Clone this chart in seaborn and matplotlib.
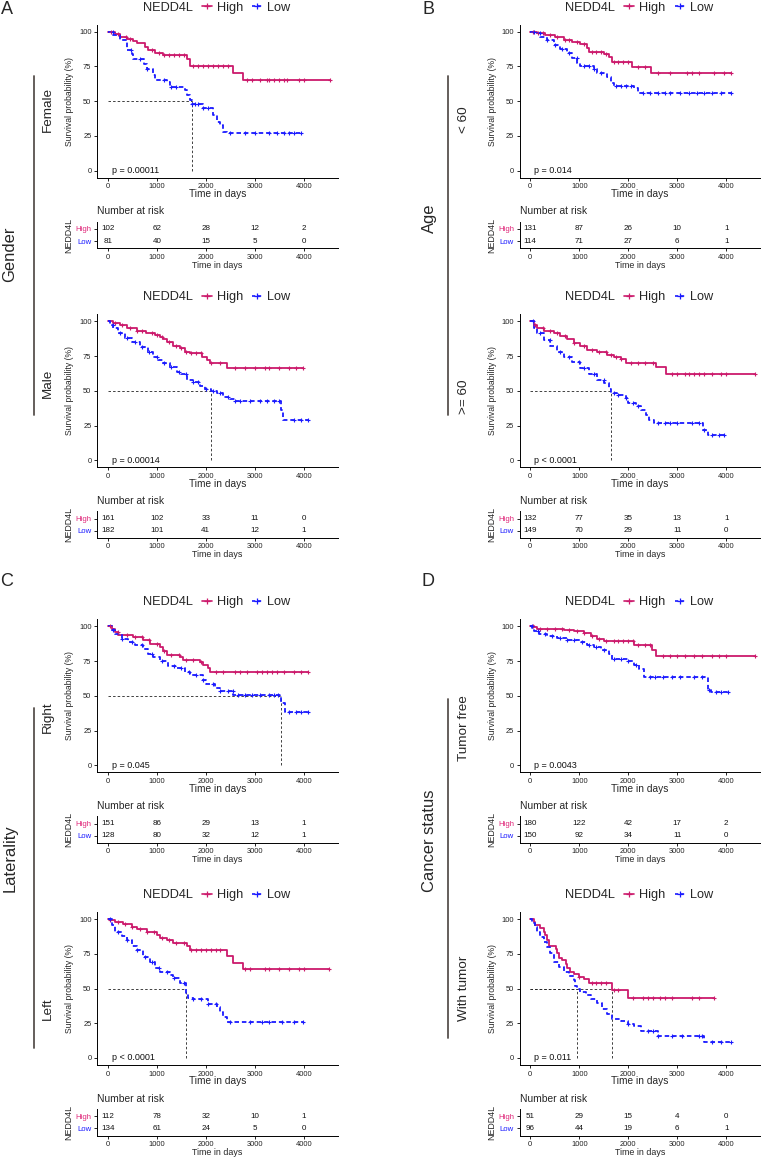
import matplotlib
matplotlib.use("Agg")

import matplotlib.pyplot as plt
from matplotlib.lines import Line2D
import seaborn as sns
import numpy as np

W, H = 761, 1157
HIGH_COLOR = "#CC1A6C"
LOW_COLOR = "#1A1AFF"
HIGH_LABEL_COLOR = "#E0287A"
RISK_TIMES = [0, 1000, 2000, 3000, 4000]

# ---------------- data ----------------
# Gender: Female
female_high_t = [0, 150, 250, 400, 520, 600, 760, 830, 960, 1130, 1610, 1680, 2560, 2760]
female_high_s = [100, 98, 96.5, 95, 93.5, 92, 89, 87, 85, 83, 80, 75, 70, 65]
female_high_cens = [60, 200, 370, 450, 900, 1050, 1150, 1250, 1350, 1450, 1550, 1750, 1850, 1950,
                    2050, 2150, 2250, 2350, 2450, 2850, 2950, 3100, 3250, 3300, 3400, 3500, 3600,
                    3650, 3900, 4000, 4540]
female_low_t = [0, 115, 250, 390, 490, 525, 730, 795, 930, 965, 1200, 1270, 1575, 1610, 1680, 1711,
                1950, 2150, 2220, 2290, 2360, 2425]
female_low_s = [100, 97.5, 94, 87, 84, 80, 77, 73.5, 69, 65, 64, 60.5, 58, 54.5, 51, 48,
                45, 40, 35, 33, 28, 27]
female_low_cens = [100, 480, 650, 800, 1150, 1300, 1400, 1720, 1780, 1850, 1950, 2050, 2500, 2800,
                   3000, 3300, 3450, 3600, 3700, 3800, 3950]
female_risk_high = [102, 62, 28, 12, 2]
female_risk_low = [81, 40, 15, 5, 0]

# Gender: Male
male_high_t = [0, 115, 250, 390, 590, 790, 960, 1070, 1130, 1200, 1340, 1470, 1575, 1680, 1915,
               2020, 2085, 2425]
male_high_s = [100, 99, 97.4, 95, 93.3, 91.4, 90, 88.5, 87, 85.4, 82.3, 80.6, 78, 77, 74.6,
               72.2, 70.3, 66.7]
male_high_cens = [150, 300, 450, 600, 700, 900, 1000, 1100, 1250, 1400, 1500, 1600, 1700, 1800,
                  1900, 2100, 2300, 2600, 2800, 3000, 3200, 3300, 3500, 3700, 3850, 3990]
male_low_t = [0, 50, 115, 215, 355, 490, 660, 830, 930, 1030, 1135, 1270, 1405, 1505, 1610, 1745,
              1880, 1985, 2098, 2220, 2355, 2490, 2595, 3545, 3580]
male_low_s = [100, 97.4, 95, 91.4, 87.8, 85.4, 81.8, 78.2, 74.6, 72.2, 69.8, 67.4, 63.8, 62.1,
              57.8, 56.6, 53.5, 51, 49.5, 48.2, 45.8, 44.1, 42.9, 36, 29]
male_low_cens = [100, 250, 400, 550, 700, 850, 1000, 1150, 1300, 1450, 1600, 1750, 1850, 2000,
                 2150, 2300, 2450, 2600, 2700, 2900, 3100, 3250, 3400, 3500, 3800, 3950, 4090]
male_risk_high = [161, 102, 33, 11, 0]
male_risk_low = [182, 101, 41, 12, 1]

# Age: < 60
young_high_t = [0, 140, 310, 510, 685, 855, 1025, 1160, 1200, 1505, 1605, 1675, 2085, 2460]
young_high_s = [100, 98.8, 97.6, 95.9, 94, 92.3, 90.9, 88.5, 85.1, 83.7, 81.5, 77.9, 74.3, 70]
young_high_cens = [50, 150, 250, 400, 550, 700, 800, 950, 1100, 1250, 1350, 1450, 1550, 1700,
                   1800, 1900, 2000, 2200, 2350, 2600, 2850, 3200, 3300, 3450, 3750, 3950, 4100]
young_low_t = [0, 100, 205, 340, 480, 615, 750, 855, 955, 1025, 1300, 1370, 1575, 1640, 1710,
               2120, 2190]
young_low_s = [100, 98.8, 96.4, 94, 90.4, 87.3, 84.4, 80.8, 77.2, 75.5, 73.1, 70.5, 67.6, 63.3,
               60.9, 59.2, 56.1]
young_low_cens = [80, 200, 350, 500, 650, 800, 950, 1100, 1200, 1300, 1450, 1750, 1850, 1950,
                  2050, 2300, 2450, 2600, 2750, 2850, 3050, 3250, 3400, 3550, 3700, 3900, 4100]
young_risk_high = [131, 87, 26, 10, 1]
young_risk_low = [114, 71, 27, 6, 1]

# Age: >= 60
old_high_t = [0, 70, 135, 275, 480, 615, 750, 890, 1025, 1160, 1370, 1575, 1710, 1845, 1950,
              2565, 2770]
old_high_s = [100, 97.4, 95, 93.3, 91.8, 89.4, 87, 84.2, 82.3, 79.4, 77.7, 75.8, 74.1, 72.7, 70.3,
              67.4, 62.1]
old_high_cens = [100, 250, 400, 550, 700, 900, 1100, 1250, 1400, 1550, 1650, 1750, 1850, 2050,
                 2200, 2350, 2500, 2900, 3000, 3150, 3250, 3350, 3450, 3550, 3700, 3900, 4000, 4580]
old_low_t = [0, 70, 135, 275, 410, 545, 685, 855, 1025, 1195, 1370, 1505, 1605, 1641, 1780, 1950,
             1985, 2155, 2255, 2360, 2430, 2530, 3520, 3625]
old_low_s = [100, 95, 91.4, 86.6, 82.3, 78.2, 74.6, 71, 66.2, 62.1, 57.8, 55.9, 51, 48.7, 47,
             44.6, 41, 39.1, 36.2, 32.6, 29, 27.1, 22, 18.2]
old_low_cens = [50, 200, 400, 600, 800, 1000, 1100, 1300, 1500, 1700, 1800, 1950, 2100, 2200,
                2600, 2750, 2850, 3000, 3300, 3450, 3550, 3700, 3850, 3960]
old_risk_high = [132, 77, 35, 13, 1]
old_risk_low = [149, 70, 29, 11, 0]

# Laterality: Right
right_high_t = [0, 80, 150, 215, 525, 725, 860, 1065, 1135, 1200, 1475, 1540, 1880, 1950, 2050, 2085]
right_high_s = [100, 98.3, 95.9, 94, 92.4, 90, 87.6, 85.2, 82.3, 79.2, 77.6, 75.7, 74.5, 72.1,
                69.7, 67.3]
right_high_cens = [50, 200, 400, 550, 700, 850, 1000, 1150, 1300, 1450, 1600, 1750, 1900, 2200,
                   2350, 2600, 2700, 2850, 3050, 3150, 3250, 3350, 3450, 3600, 3800, 3950, 4080]
right_low_t = [0, 80, 150, 285, 420, 555, 725, 830, 930, 1065, 1235, 1405, 1575, 1675, 1950, 2015,
               2185, 2290, 2560, 3545, 3615]
right_low_s = [100, 97.6, 94.7, 91.2, 88.8, 86.4, 84, 80.4, 77.6, 74.9, 71.4, 69.7, 67.3, 64.9,
               61.3, 58.5, 55.4, 53.7, 50.8, 44.6, 38.2]
right_low_cens = [100, 300, 500, 700, 900, 1100, 1350, 1500, 1650, 1800, 1950, 2150, 2300, 2450,
                  2550, 2650, 2800, 2950, 3100, 3300, 3400, 3480, 3700, 3850, 3950, 4080]
right_risk_high = [151, 86, 29, 13, 1]
right_risk_low = [128, 80, 32, 12, 1]

# Laterality: Left
left_high_t = [0, 50, 150, 320, 490, 590, 795, 1000, 1065, 1200, 1340, 1610, 1675, 2425, 2560, 2765]
left_high_s = [100, 99.3, 97.6, 96.2, 94.5, 92.5, 90.9, 88.5, 86.1, 84.9, 82.5, 80.5, 77.6, 73.5,
               68, 63.9]
left_high_cens = [50, 200, 350, 500, 650, 800, 950, 1100, 1250, 1400, 1550, 1700, 1800, 1900, 2000,
                  2100, 2200, 2300, 2800, 2900, 3200, 3300, 3500, 3700, 3900, 4000, 4520]
left_low_t = [0, 80, 150, 285, 385, 490, 590, 725, 860, 965, 1065, 1270, 1340, 1475, 1589, 1645,
              1745, 2050, 2220, 2290, 2355, 2425]
left_low_s = [100, 95.7, 90.9, 87.7, 84.9, 80.5, 77.6, 72.8, 69.2, 64.4, 62, 59.6, 57.2, 53.6,
              46.4, 43.5, 42.1, 39.2, 36.8, 33.2, 29.6, 26]
left_low_cens = [50, 200, 400, 600, 750, 900, 1050, 1200, 1350, 1550, 1750, 1900, 2050, 2200,
                 2500, 2900, 3150, 3300, 3550, 3800, 3980]
left_risk_high = [112, 78, 32, 10, 1]
left_risk_low = [134, 61, 24, 5, 0]

# Cancer status: Tumor free
free_high_t = [0, 70, 135, 685, 890, 1095, 1230, 1370, 1505, 2120, 2495, 2565]
free_high_s = [100, 99.3, 98.3, 97.6, 96.4, 95.2, 93.3, 90.9, 89.2, 86.8, 83.2, 78.9]
free_high_cens = [50, 200, 350, 500, 650, 800, 950, 1100, 1250, 1400, 1550, 1700, 1800, 1900, 2000,
                  2100, 2200, 2350, 2450, 2700, 2850, 3000, 3150, 3350, 3500, 3700, 3850, 4000, 4580]
free_low_t = [0, 35, 70, 170, 340, 545, 750, 1025, 1160, 1300, 1435, 1605, 1675, 1985, 2120, 2225,
              2325, 3625, 3695]
free_low_s = [100, 98.1, 96.4, 94.7, 93.3, 91.6, 89.9, 88.5, 86.8, 84.9, 83.2, 80.3, 76.5, 74.8,
              72.4, 69.3, 63.5, 54.4, 52.5]
free_low_cens = [30, 150, 300, 450, 600, 750, 900, 1050, 1200, 1350, 1500, 1700, 1850, 2000, 2150,
                 2450, 2550, 2700, 2900, 3050, 3350, 3500, 3650, 3800, 3900, 4030]
free_risk_high = [180, 122, 42, 17, 2]
free_risk_low = [150, 92, 34, 11, 0]

# Cancer status: With tumor
tumor_high_t = [0, 70, 105, 205, 275, 310, 340, 375, 515, 545, 580, 650, 720, 750, 820, 890, 990,
                1095, 1195, 1662, 1985]
tumor_high_s = [100, 98, 95.7, 93.3, 90.9, 88.5, 84.9, 80.5, 78.1, 75.2, 72.1, 70.4, 67.5, 64.4,
                62, 60.1, 58.4, 56.5, 54.1, 49, 43.5]
tumor_high_cens = [1000, 1250, 1350, 1450, 1550, 1700, 1800, 2100, 2300, 2400, 2500, 2650, 2750,
                   2900, 3300, 3450, 3750]
tumor_low_t = [0, 35, 105, 135, 205, 275, 340, 410, 480, 580, 685, 785, 890, 923, 957, 1025, 1130,
               1230, 1370, 1470, 1575, 1675, 1845, 1985, 2120, 2255, 2600, 3555]
tumor_low_s = [100, 96.9, 94.5, 90.9, 87.3, 83.7, 80, 75.2, 69.2, 65.6, 62, 58.9, 56, 51.7, 49.5,
               47.6, 45.2, 42.8, 39.7, 35.6, 32, 28.4, 26.7, 24.8, 22.8, 19.5, 15.6, 11.5]
tumor_low_cens = [2000, 2400, 2500, 2600, 2900, 3100, 3450, 3500, 3700, 3900, 4100]
tumor_risk_high = [51, 29, 15, 4, 0]
tumor_risk_low = [96, 44, 19, 6, 1]

PVALUES = ["p = 0.00011", "p = 0.00014", "p = 0.014", "p < 0.0001",
           "p = 0.045", "p < 0.0001", "p = 0.0043", "p = 0.011"]

PANELS = [
    (0, 0, (female_high_t, female_high_s, female_high_cens), (female_low_t, female_low_s, female_low_cens), female_risk_high, female_risk_low, PVALUES[0]),
    (0, 1, (male_high_t, male_high_s, male_high_cens), (male_low_t, male_low_s, male_low_cens), male_risk_high, male_risk_low, PVALUES[1]),
    (1, 0, (young_high_t, young_high_s, young_high_cens), (young_low_t, young_low_s, young_low_cens), young_risk_high, young_risk_low, PVALUES[2]),
    (1, 1, (old_high_t, old_high_s, old_high_cens), (old_low_t, old_low_s, old_low_cens), old_risk_high, old_risk_low, PVALUES[3]),
    (0, 2, (right_high_t, right_high_s, right_high_cens), (right_low_t, right_low_s, right_low_cens), right_risk_high, right_risk_low, PVALUES[4]),
    (0, 3, (left_high_t, left_high_s, left_high_cens), (left_low_t, left_low_s, left_low_cens), left_risk_high, left_risk_low, PVALUES[5]),
    (1, 2, (free_high_t, free_high_s, free_high_cens), (free_low_t, free_low_s, free_low_cens), free_risk_high, free_risk_low, PVALUES[6]),
    (1, 3, (tumor_high_t, tumor_high_s, tumor_high_cens), (tumor_low_t, tumor_low_s, tumor_low_cens), tumor_risk_high, tumor_risk_low, PVALUES[7]),
]

# ---------------- layout (pixels) ----------------
COL_X0 = [97.0, 519.5]                 # left edge of plotting area
ROW_Y100 = [31.7, 321.3, 626.3, 919.0]  # pixel row of the 100 % tick
AX_W = 241.0
AX_H = 152.9
XLIM = (-220, 4700)

sns.set_theme(style="ticks")
plt.rcParams["font.family"] = ["Liberation Sans", "DejaVu Sans"]
plt.rcParams["axes.linewidth"] = 0.7


def px_axes(fig, left, top, width, height):
    return fig.add_axes([left / W, 1 - (top + height) / H, width / W, height / H])


def surv_at(t, s, x):
    idx = np.searchsorted(np.asarray(t), np.asarray(x), side="right") - 1
    return np.asarray(s)[idx]


def style_axes(ax):
    sns.despine(ax=ax)
    for sp in ("left", "bottom"):
        ax.spines[sp].set_color("black")
        ax.spines[sp].set_linewidth(0.7)
    ax.tick_params(length=2.5, width=0.6, pad=1.5, colors="black", labelcolor="#222222")


def draw_panel(fig, col, row, high, low, risk_high, risk_low, pval):
    x0 = COL_X0[col]
    y100 = ROW_Y100[row]

    ax = px_axes(fig, x0, y100 - 6.95, AX_W, AX_H)
    medians = []
    for (t, s, cens), color, ls in ((high, HIGH_COLOR, "-"), (low, LOW_COLOR, (0, (2.5, 1.6)))):
        t_line = list(t) + [max(cens)]
        s_line = list(s) + [s[-1]]
        sns.lineplot(x=t_line, y=s_line, drawstyle="steps-post", color=color,
                     linestyle=ls, linewidth=1.3, estimator=None, ax=ax)
        sns.scatterplot(x=cens, y=surv_at(t, s, cens), marker="+", color=color,
                        s=7, linewidth=0.8, legend=False, ax=ax, zorder=3)
        below = [ti for ti, si in zip(t, s) if si <= 50]
        if below:
            medians.append(below[0])
    for m in medians:
        ax.plot([0, m], [50, 50], color="#222222", lw=0.6, ls=(0, (3, 2.5)), zorder=1)
        ax.plot([m, m], [0, 50], color="#222222", lw=0.6, ls=(0, (3, 2.5)), zorder=1)

    ax.set_xlim(*XLIM)
    ax.set_ylim(-5, 105)
    ax.set_xticks(RISK_TIMES)
    ax.set_yticks([0, 25, 50, 75, 100])
    style_axes(ax)
    ax.tick_params(labelsize=5.4)
    ax.set_xlabel("Time in days", fontsize=7.3, va="center")
    ax.xaxis.set_label_coords(0.5, -16.4 / AX_H)
    ax.set_ylabel("Survival probability (%)", fontsize=6.2, va="center")
    ax.yaxis.set_label_coords(-27 / AX_W, 0.5)
    ax.text(85, 0, pval, fontsize=6.5, ha="left", va="center", color="#111111")

    # legend above the curves
    handles = [
        Line2D([], [], ls="none"),
        Line2D([], [], color=HIGH_COLOR, lw=1.2, marker="+", markersize=4, markeredgewidth=0.9),
        Line2D([], [], color=LOW_COLOR, lw=1.2, ls=(0, (2, 1.5)), marker="+", markersize=4,
               markeredgewidth=0.9),
    ]
    fig.legend(handles=handles, labels=["NEDD4L", "High", "Low"], ncol=3, loc="center",
               bbox_to_anchor=((x0 + 112) / W, 1 - (y100 - 24) / H), frameon=False,
               fontsize=9.2, handlelength=0.8, handletextpad=0.4, columnspacing=0.7,
               borderpad=0, borderaxespad=0)

    # number-at-risk table
    rh = 26.6
    axr = px_axes(fig, x0, y100 + 190, AX_W, rh)
    axr.set_xlim(*XLIM)
    axr.set_ylim(0.4, 2.6)
    axr.set_xticks(RISK_TIMES)
    axr.set_yticks([2, 1])
    axr.set_yticklabels(["High", "Low"])
    style_axes(axr)
    axr.tick_params(labelsize=5.4)
    axr.tick_params(axis="y", labelsize=5.6)
    axr.get_yticklabels()[0].set_color(HIGH_LABEL_COLOR)
    axr.get_yticklabels()[1].set_color(LOW_COLOR)
    for tm, nh, nl in zip(RISK_TIMES, risk_high, risk_low):
        axr.text(tm, 2, str(nh), ha="center", va="center", fontsize=5.8, color="#111111")
        axr.text(tm, 1, str(nl), ha="center", va="center", fontsize=5.8, color="#111111")
    axr.text(0, 1 + 10.4 / rh, "Number at risk", transform=axr.transAxes, ha="left",
             va="center", fontsize=7.4)
    axr.set_xlabel("Time in days", fontsize=6.4, va="center")
    axr.xaxis.set_label_coords(0.5, -16.7 / rh)
    axr.set_ylabel("NEDD4L", fontsize=6.4, va="center")
    axr.yaxis.set_label_coords(-28 / AX_W, 0.5)


fig = plt.figure(figsize=(W / 100, H / 100), dpi=100)

for col, row, high, low, rhigh, rlow, pval in PANELS:
    draw_panel(fig, col, row, high, low, rhigh, rlow, pval)

# panel letters
for letter, x, y in (("A", 7, 9), ("B", 428, 9), ("C", 7, 582), ("D", 428, 582)):
    fig.text(x / W, 1 - y / H, letter, fontsize=13, ha="center", va="center")

# grouping labels and brackets
GROUPS = [
    ("Gender", 10, 254, 34, 76, 415),
    ("Age", 429, 218, 448, 76, 415),
    ("Laterality", 10, 858, 34, 708, 1048),
    ("Cancer status", 429, 841, 448, 699, 1038),
]
for label, lx, ly, bx, y_top, y_bot in GROUPS:
    fig.text(lx / W, 1 - ly / H, label, fontsize=11.9, rotation=90, ha="center", va="center")
    fig.add_artist(Line2D([bx / W, bx / W], [1 - y_top / H, 1 - y_bot / H],
                          transform=fig.transFigure, color="#58524e", lw=1.3))

SUBGROUPS = [
    ("Female", 48, 110), ("Male", 48, 383),
    ("< 60", 464, 120), (">= 60", 464, 397),
    ("Right", 48, 717), ("Left", 48, 1009),
    ("Tumor free", 464, 728), ("With tumor", 464, 988),
]
for label, lx, ly in SUBGROUPS:
    fig.text(lx / W, 1 - ly / H, label, fontsize=9.7, rotation=90, ha="center", va="center")

fig.savefig("out.png", dpi=100)
plt.close(fig)
